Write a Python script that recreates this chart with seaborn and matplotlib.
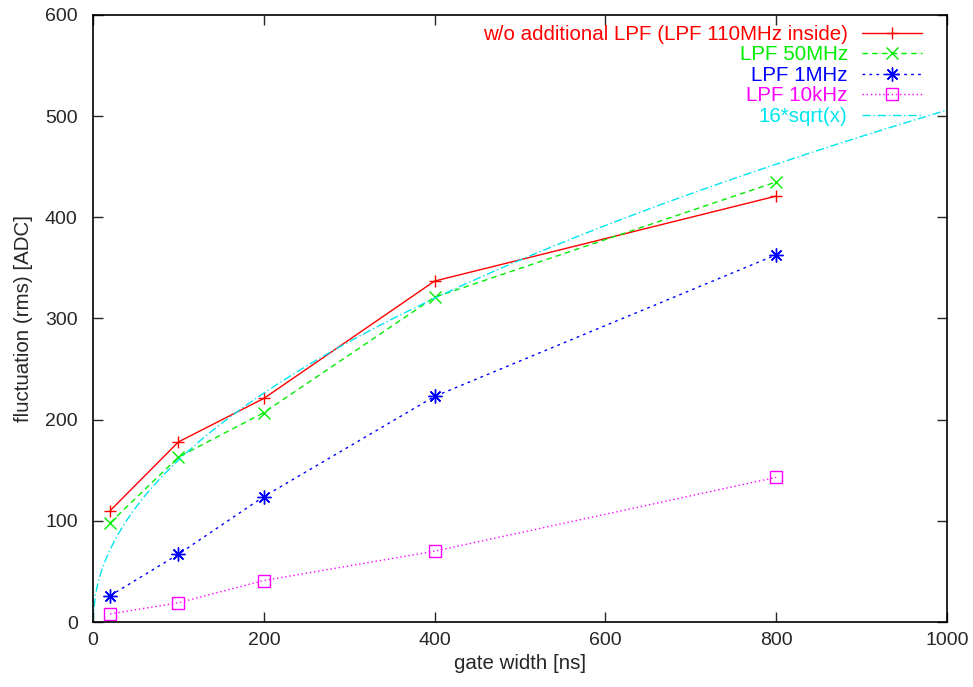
import numpy as np
import pandas as pd
import seaborn as sns
import matplotlib.pyplot as plt

# gate widths [ns]
gate = [20, 100, 200, 400, 800]

# fluctuation (rms) [ADC]
no_lpf = [110, 178, 221, 337, 421]
lpf_50mhz = [98, 163, 207, 321, 435]
lpf_1mhz = [26, 67, 124, 223, 363]
lpf_10khz = [8, 19, 41, 70, 143]

# reference curve 16*sqrt(x)
coef = 16
x_ref = np.linspace(0, 1000, 400)

labels = ["w/o additional LPF (LPF 110MHz inside)", "LPF 50MHz", "LPF 1MHz", "LPF 10kHz", "16*sqrt(x)"]

sns.set_style("ticks")
plt.rcParams["font.family"] = ["Liberation Sans", "DejaVu Sans"]
fs = 14
fs_big = 14.8

fig = plt.figure(figsize=(9.73, 6.87), dpi=100)
ax = fig.add_axes([0.0956, 0.0946, 0.8777, 0.8836])

# measured series
sns.lineplot(x=gate, y=no_lpf, ax=ax, color="#ff0000", linestyle="-", lw=1,
             marker="+", markersize=9, mew=1, mec="#ff0000", label=labels[0])
sns.lineplot(x=gate, y=lpf_50mhz, ax=ax, color="#00ee00", linestyle=(0, (4, 3)), lw=1,
             marker="x", markersize=8, mew=1, mec="#00ee00", label=labels[1])
sns.lineplot(x=gate, y=lpf_1mhz, ax=ax, color="#0000ff", linestyle=(0, (2, 3)), lw=1,
             marker=(8, 2, 0), markersize=10, mew=1, mec="#0000ff", label=labels[2])
sns.lineplot(x=gate, y=lpf_10khz, ax=ax, color="#ff00ff", linestyle=(0, (1, 2)), lw=1,
             marker="s", markersize=8, mew=1, markerfacecolor="none", mec="#ff00ff",
             label=labels[3])
sns.lineplot(x=x_ref, y=coef * np.sqrt(x_ref), ax=ax, color="#00e5ee", linestyle=(0, (6, 2, 1, 2)),
             lw=1, label=labels[4])

ax.set_xlim(0, 1000)
ax.set_ylim(0, 600)
ax.set_xticks(range(0, 1001, 200))
ax.set_yticks(range(0, 601, 100))
ax.tick_params(direction="in", length=7, width=1, top=True, right=True, labelsize=fs)
ax.tick_params(axis="x", pad=7)
ax.tick_params(axis="y", pad=11)
for s in ax.spines.values():
    s.set_linewidth(1.2)
    s.set_color("black")

ax.set_xlabel("gate width [ns]", fontsize=fs_big, labelpad=4)
ax.set_ylabel("fluctuation (rms) [ADC]", fontsize=fs_big)
ax.yaxis.set_label_coords(-0.070, 0.5)

leg = ax.legend(loc="upper right", bbox_to_anchor=(0.98, 0.997), frameon=False, markerfirst=False,
                labelcolor="linecolor", handlelength=2.9, handletextpad=0.7, labelspacing=0.07,
                fontsize=fs_big, borderaxespad=0, numpoints=1)

plt.savefig("out.png", dpi=100)
